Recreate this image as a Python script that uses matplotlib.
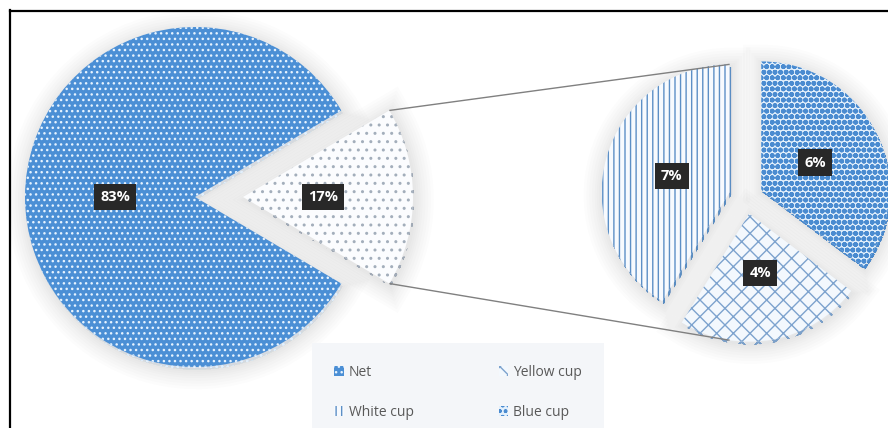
import matplotlib
matplotlib.use("Agg")
import numpy as np
import matplotlib.pyplot as plt
import matplotlib.patheffects as pe
from matplotlib.lines import Line2D

# ---- data -------------------------------------------------------------
main_labels = ["Net", "Other"]
main_values = [83, 17]
sub_labels = ["White cup", "Yellow cup", "Blue cup"]
sub_values = [7, 4, 6]
legend_order = ["Net", "White cup", "Yellow cup", "Blue cup"]

plt.rcParams["font.family"] = ["Open Sans", "DejaVu Sans"]

W, H = 888, 428
fig = plt.figure(figsize=(W / 100, H / 100), dpi=100)
ax = fig.add_axes([0, 0, 1, 1])
ax.set_axis_off()

# soft outer glow behind every slice, built from many faint strokes
glow = [pe.Stroke(linewidth=lw, foreground="k", alpha=0.011, offset=(1, -2))
        for lw in (28, 24, 20, 16, 12, 9, 6, 3)]
glow.append(pe.Normal())


def style(w, fc, hc, hatch, hlw=1.0):
    w.set_facecolor(fc)
    w.set_edgecolor(hc)
    w.set_hatch(hatch)
    w.set_linewidth(0)
    if hasattr(w, "set_hatch_linewidth"):
        w.set_hatch_linewidth(hlw)
    else:
        w._hatch_linewidth = hlw
    w.set_path_effects(glow)


# ---- main pie ---------------------------------------------------------
main_center = (195, 231)
main_r = 170
main_start = 180 * main_values[1] / sum(main_values)
main_wedges, _ = ax.pie(
    main_values, center=main_center, radius=main_r, explode=[0, 48],
    startangle=main_start, counterclock=True, frame=True,
    wedgeprops=dict(linewidth=0),
)
style(main_wedges[0], "#4B8FD5", "#E6F3FF", "...")
style(main_wedges[1], "#FBFCFE", "#A3AEBB", "..")

# ---- secondary pie ----------------------------------------------------
sub_center = (746, 231)
sub_r = 128
sub_wedges, _ = ax.pie(
    sub_values, center=sub_center, radius=sub_r, explode=[17, 17, 17],
    startangle=90, counterclock=True, frame=True,
    wedgeprops=dict(linewidth=0),
)
style(sub_wedges[0], "#F7FAFE", "#5C8FC6", "|||")
style(sub_wedges[1], "#F3F8FD", "#7DA3CE", "xx")
style(sub_wedges[2], "#E3F0FC", "#4A8BD0", "ooo", hlw=1.8)


# ---- value labels -----------------------------------------------------
def label_wedges(wedges, values):
    for w, v in zip(wedges, values):
        ang = np.deg2rad((w.theta1 + w.theta2) / 2)
        x = w.center[0] + 0.47 * w.r * np.cos(ang)
        y = w.center[1] + 0.47 * w.r * np.sin(ang)
        ax.text(x, y, f"{v}%", ha="center", va="center", color="white",
                fontsize=10.5, fontweight="bold",
                bbox=dict(boxstyle="square,pad=0.42", fc="#282828", ec="none"),
                zorder=5)


label_wedges(main_wedges, main_values)
label_wedges(sub_wedges, sub_values)

# ---- connector lines --------------------------------------------------
other = main_wedges[1]
white = sub_wedges[0]
yellow = sub_wedges[1]
a_top, a_bot = np.deg2rad(other.theta2), np.deg2rad(other.theta1)
p_top = (other.center[0] + other.r * np.cos(a_top),
         other.center[1] + other.r * np.sin(a_top))
p_bot = (other.center[0] + other.r * np.cos(a_bot),
         other.center[1] + other.r * np.sin(a_bot))
q_top = (white.center[0], white.center[1] + white.r)
dx = q_top[0] - yellow.center[0]
q_bot = (q_top[0], yellow.center[1] - np.sqrt(yellow.r ** 2 - dx ** 2))
for p, q in [(p_top, q_top), (p_bot, q_bot)]:
    ax.plot([p[0], q[0]], [p[1], q[1]], color="#808080", lw=1.0,
            solid_capstyle="butt", zorder=1)

ax.set_xlim(0, W)
ax.set_ylim(0, H)
ax.set_aspect("equal", adjustable="box")

# ---- legend -----------------------------------------------------------
handle_map = {"Net": main_wedges[0]}
handle_map.update(dict(zip(sub_labels, sub_wedges)))
leg = ax.legend(
    [handle_map[k] for k in legend_order], legend_order,
    ncol=2, loc="upper left",
    bbox_to_anchor=(312 / W, 1 - 343 / H),
    bbox_transform=fig.transFigure, borderaxespad=0,
    frameon=True, fancybox=False, facecolor="#F4F6F9", edgecolor="none",
    framealpha=1, fontsize=10, handlelength=0.7, handleheight=0.7,
    handletextpad=0.35, labelspacing=1.75, borderpad=1.6, columnspacing=6.1,
)
for t in leg.get_texts():
    t.set_color("#595959")
for h in leg.legend_handles:
    h.set_path_effects([])

# ---- chart border (top and left) --------------------------------------
fig.add_artist(Line2D([9.5 / W, 9.5 / W], [0, 1 - 9.5 / H],
                      transform=fig.transFigure, color="black", lw=1.6))
fig.add_artist(Line2D([9.5 / W, 1], [1 - 10.5 / H, 1 - 10.5 / H],
                      transform=fig.transFigure, color="black", lw=1.6))

fig.savefig("out.png", dpi=100)
